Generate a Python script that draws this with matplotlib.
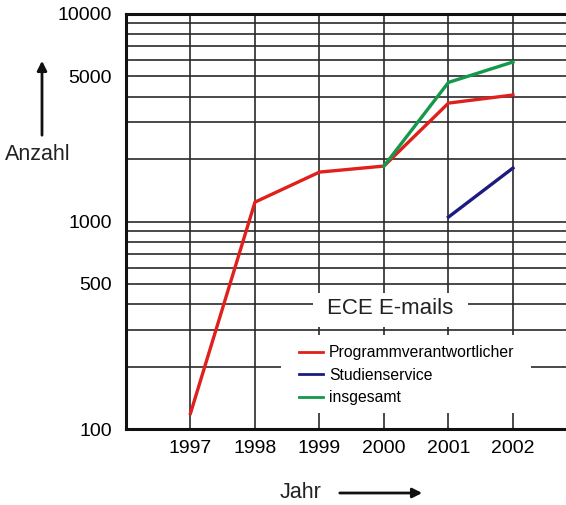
import matplotlib
matplotlib.use('Agg')
import matplotlib.pyplot as plt
from matplotlib.patches import Rectangle
from matplotlib.ticker import LogLocator, NullFormatter, FixedLocator

plt.rcParams['font.family'] = ['Liberation Sans', 'DejaVu Sans']

# Daten
jahre_prog = [1997, 1998, 1999, 2000, 2001, 2002]
programmverantwortlicher = [119, 1240, 1730, 1850, 3720, 4070]
jahre_studien = [2001, 2002]
studienservice = [1050, 1810]
jahre_gesamt = [2000, 2001, 2002]
insgesamt = [1850, 4680, 5870]

ytick_vals = [100, 500, 1000, 5000, 10000]
xtick_vals = [1997, 1998, 1999, 2000, 2001, 2002]

W, H = 566, 505
fig = plt.figure(figsize=(W / 100, H / 100), dpi=100)
ax = fig.add_axes([126 / W, 1 - 429 / H, 1 - 126 / W, (429 - 14) / H])

ax.set_yscale('log')
ax.set_ylim(100, 10000)
ax.set_xlim(1996, 1997 + (566 - 191) / 64.4)

ax.yaxis.set_major_locator(FixedLocator(ytick_vals))
ax.set_yticklabels([str(v) for v in ytick_vals])
ax.yaxis.set_minor_locator(LogLocator(base=10, subs=range(1, 10)))
ax.yaxis.set_minor_formatter(NullFormatter())
ax.set_xticks(xtick_vals)
ax.set_xticklabels([str(v) for v in xtick_vals])

ax.tick_params(axis='both', which='both', length=0, labelsize=14)
ax.tick_params(axis='y', pad=10)
ax.tick_params(axis='x', pad=8)

ax.set_axisbelow(True)
ax.grid(True, which='both', axis='y', color='#2a2a2a', linewidth=1.2)
ax.grid(True, which='major', axis='x', color='#2a2a2a', linewidth=1.2)

for s in ['top', 'bottom', 'left']:
    ax.spines[s].set_linewidth(2.2)
    ax.spines[s].set_color('#111111')
ax.spines['right'].set_visible(False)

# weisse Flaechen hinter Titel und Legende
ax.add_patch(Rectangle((1998.894, 310), 2001.30 - 1998.894, 452 - 310,
                       facecolor='white', edgecolor='none', zorder=1))
ax.add_patch(Rectangle((1998.41, 119), 2002.28 - 1998.41, 284 - 119,
                       facecolor='white', edgecolor='none', zorder=1))

ax.plot(jahre_prog, programmverantwortlicher, color='#e0201c', lw=2.4,
        label='Programmverantwortlicher', zorder=3)
ax.plot(jahre_studien, studienservice, color='#1c1c80', lw=2.4,
        label='Studienservice', zorder=3)
ax.plot(jahre_gesamt, insgesamt, color='#14994a', lw=2.4,
        label='insgesamt', zorder=3)

fig.text(390 / W, 1 - 309 / H, 'ECE E-mails', fontsize=16,
         ha='center', va='center', color='#222222')

leg = fig.legend(loc='upper left', bbox_to_anchor=(299 / W, 1 - 345 / H),
                 frameon=False, fontsize=11.3, handlelength=1.5,
                 handletextpad=0.4, labelspacing=0.48, borderpad=0,
                 borderaxespad=0)
for line in leg.get_lines():
    line.set_linewidth(2.0)

# Achsenbeschriftungen mit Pfeilen
fig.text(38 / W, 1 - 155 / H, 'Anzahl', fontsize=15.5,
         ha='center', va='center', color='#222222')
fig.add_artist(matplotlib.patches.FancyArrowPatch(
    (42 / W, 1 - 138 / H), (42 / W, 1 - 58 / H), transform=fig.transFigure,
    arrowstyle='-|>', mutation_scale=14, lw=2, color='#111111'))

fig.text(301 / W, 1 - 492 / H, 'Jahr', fontsize=15.5,
         ha='center', va='center', color='#222222')
fig.add_artist(matplotlib.patches.FancyArrowPatch(
    (337 / W, 1 - 493 / H), (425 / W, 1 - 493 / H), transform=fig.transFigure,
    arrowstyle='-|>', mutation_scale=14, lw=2, color='#111111'))

fig.savefig('out.png', dpi=100)
